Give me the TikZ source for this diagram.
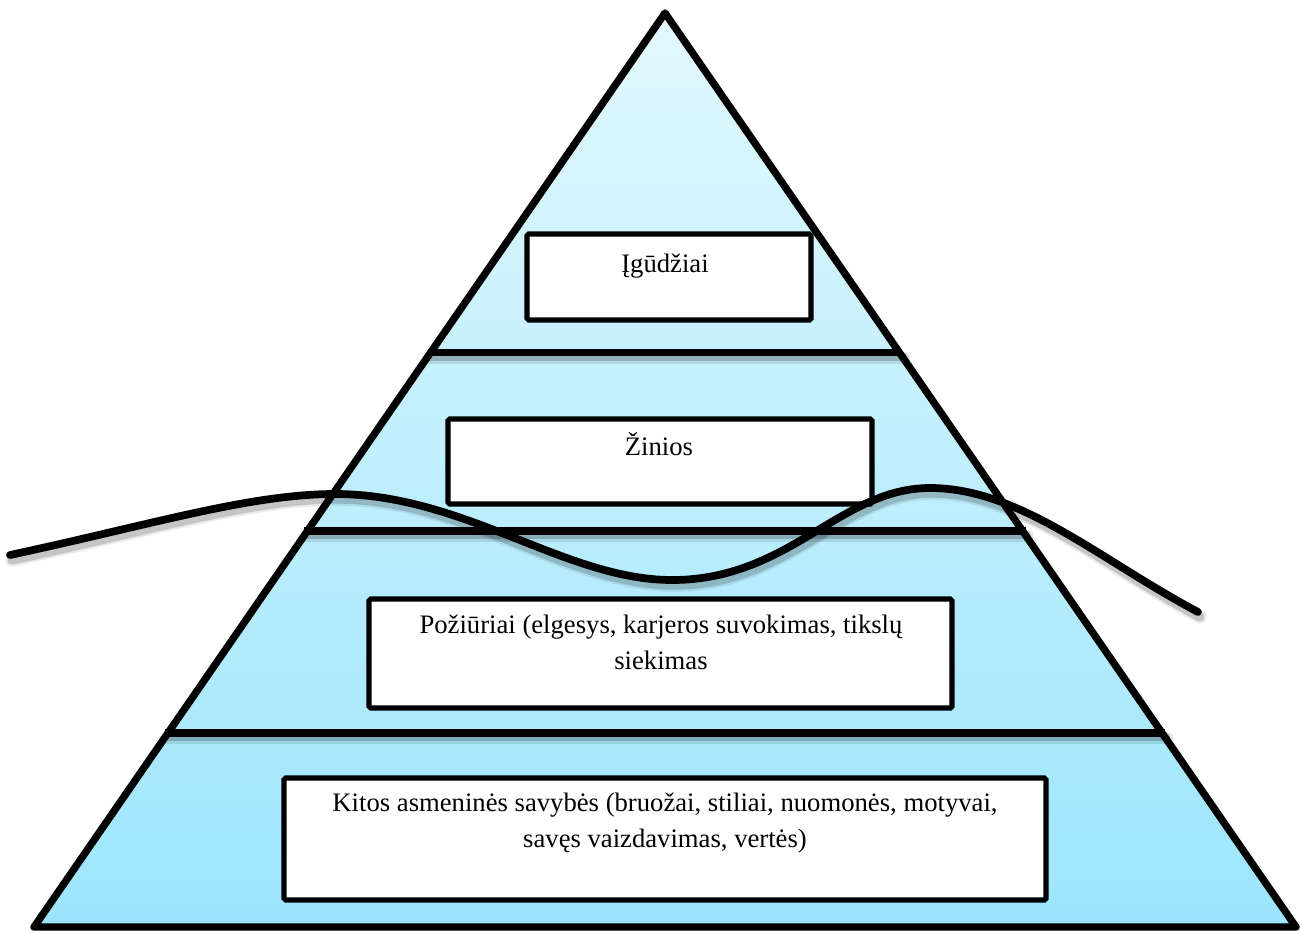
\documentclass[tikz,border=0pt]{standalone}
\usepackage{fontspec}
\setmainfont{Liberation Serif}
\usetikzlibrary{calc,fit}
\begin{document}
\begin{tikzpicture}[x=0.75pt,y=-0.75pt,
  outline/.style={line width=5.5pt, line join=round, line cap=round},
  divider/.style={line width=5.5pt},
  softshadow/.style={draw=black, line cap=round, line join=round},
  box/.style={draw, line width=3.8pt, fill=white, rounded corners=1.2pt, inner sep=0pt},
  lbl/.style={font=\fontsize{20pt}{27pt}\selectfont, align=center, inner sep=0pt, anchor=base},
  wave/.style={line width=5.8pt, line cap=round, line join=round}]

% page frame
\useasboundingbox (0,0) rectangle (1302,933);

% pyramid corners
\coordinate (A) at (665,13);
\coordinate (L) at (34,927);
\coordinate (R) at (1296,927);

% level boundaries on both slopes
\coordinate (d1l) at ($(A)!0.3715!(L)+(-3,0)$);
\coordinate (d1r) at ($(A)!0.3715!(R)+(3,0)$);
\coordinate (d2l) at ($(A)!0.5667!(L)+(-3,0)$);
\coordinate (d2r) at ($(A)!0.5667!(R)+(3,0)$);
\coordinate (d3l) at ($(A)!0.7877!(L)+(-3,0)$);
\coordinate (d3r) at ($(A)!0.7877!(R)+(3,0)$);

% pyramid body
\shade[top color={rgb,255:red,226;green,248;blue,253},
       bottom color={rgb,255:red,156;green,229;blue,252}]
  (A) -- (L) -- (R) -- cycle;

% soft shadows under the level boundaries
\foreach \a/\b in {d1l/d1r,d2l/d2r,d3l/d3r}{
  \draw[softshadow, line width=9pt, draw opacity=0.10] ($(\a)+(2,5)$) -- ($(\b)+(2,5)$);
  \draw[softshadow, line width=6pt, draw opacity=0.18] ($(\a)+(1,4)$) -- ($(\b)+(1,4)$);
}

% outline and level boundaries
\draw[outline] (A) -- (L) -- (R) -- cycle;
\draw[divider] (d1l) -- (d1r);
\draw[divider] (d2l) -- (d2r);
\draw[divider] (d3l) -- (d3r);

% text boxes
\coordinate (b1a) at (527,234); \coordinate (b1b) at (811,320);
\coordinate (b2a) at (448,419); \coordinate (b2b) at (872,504);
\coordinate (b3a) at (369,599); \coordinate (b3b) at (952,708);
\coordinate (b4a) at (284,778); \coordinate (b4b) at (1046,900);
\node[box, fit=(b1a)(b1b)] (box1) {};
\node[box, fit=(b2a)(b2b)] (box2) {};
\node[box, fit=(b3a)(b3b)] (box3) {};
\node[box, fit=(b4a)(b4b)] (box4) {};

\node[lbl] (t1) at (665,272) {Įgūdžiai};
\node[lbl] (t2) at (659,455) {Žinios};
\node[lbl, anchor=north] (t3) at (661,615) {Požiūriai (elgesys, karjeros suvokimas, tikslų\\siekimas};
\node[lbl, anchor=north] (t4) at (665,793) {Kitos asmeninės savybės (bruožai, stiliai, nuomonės, motyvai,\\savęs vaizdavimas, vertės)};

% the wavy line across the pyramid
\def\wavepath{(10,555) .. controls (150,525) and (250,494) .. (335,494)
  .. controls (465,494) and (565,580) .. (672,580)
  .. controls (790,580) and (840,488) .. (930,488)
  .. controls (1020,488) and (1100,560) .. (1198,612)}
\begin{scope}[shift={(2,5)}]
  \draw[softshadow, line width=10pt, draw opacity=0.08] \wavepath;
  \draw[softshadow, line width=7pt, draw opacity=0.16] \wavepath;
\end{scope}
\draw[wave] \wavepath;
\end{tikzpicture}
\end{document}
